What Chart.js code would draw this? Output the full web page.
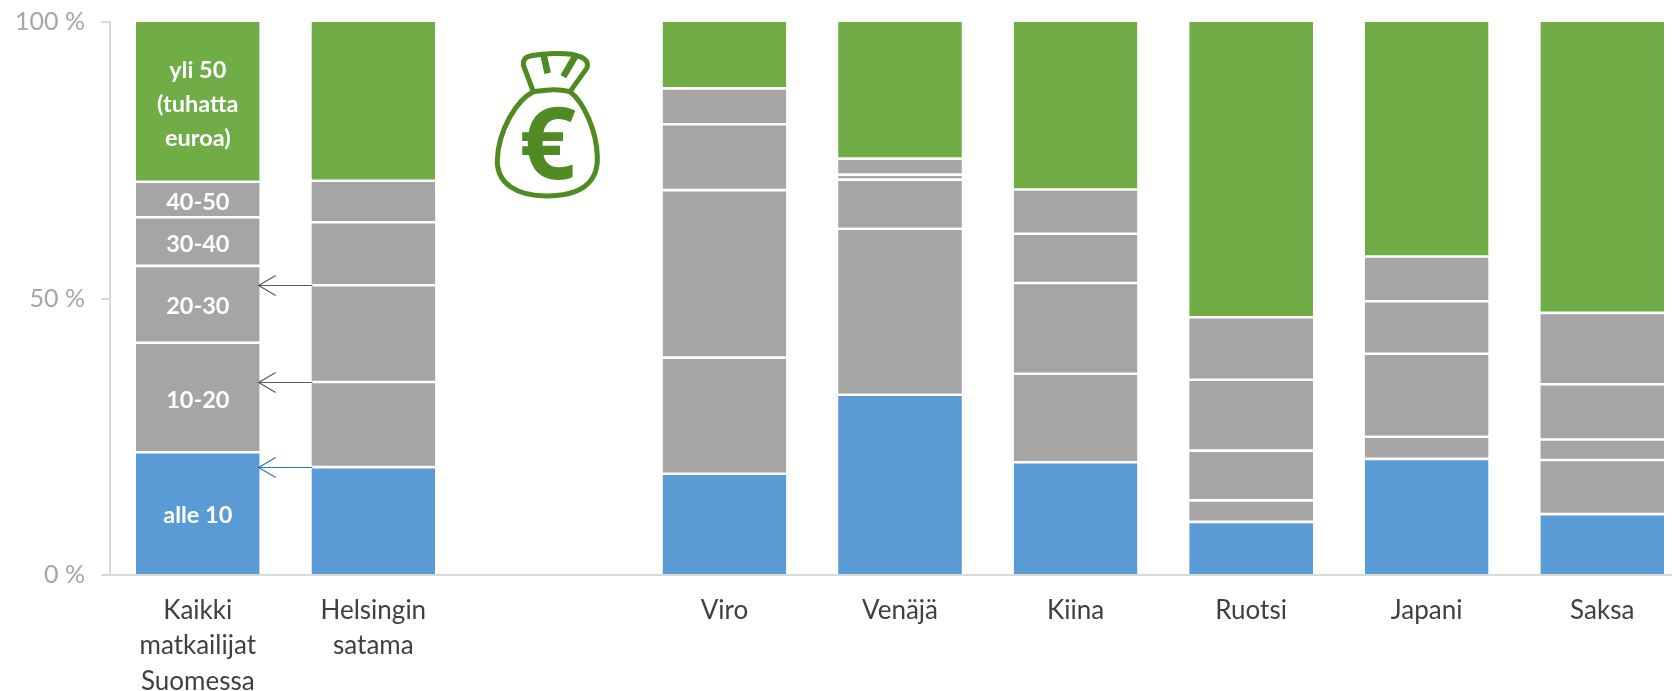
<!DOCTYPE html>
<html><head><meta charset="utf-8">
<style>html,body{margin:0;padding:0;background:#fff;overflow:hidden;width:1672px;height:691px}canvas{display:block}</style>
<script src="https://cdn.jsdelivr.net/npm/chart.js@4"></script>
</head><body><canvas id="c" width="1700" height="691"></canvas>
<script>
const categories=[['Kaikki','matkailijat','Suomessa'],['Helsingin','satama'],'','Viro','Venäjä','Kiina','Ruotsi','Japani','Saksa'];
const alle10=[22.2,19.5,null,18.3,32.6,20.4,9.6,21.0,11.0];
const s10_20=[19.8,15.4,null,21.0,30.0,16.0,3.9,4.0,9.8];
const s20_30=[13.9,17.5,null,30.3,8.9,16.4,9.0,15.0,3.7];
const s30_40=[8.8,11.4,null,11.9,0.9,8.9,12.8,9.5,10.0];
const s40_50=[6.4,7.5,null,6.5,2.9,8.0,11.3,8.1,12.9];
const yli50=[28.9,28.7,null,12.0,24.7,30.3,53.4,42.4,52.6];
const segmentLabels=[['alle 10'],['10-20'],['20-30'],['30-40'],['40-50'],['yli 50','(tuhatta','euroa)']];
const yTicks=[0,50,100];
const arrowLevels=[{upTo:1,color:'#2E75B6'},{upTo:2,color:'#595959'},{upTo:3,color:'#595959'}];
const BLUE='#5B9BD5',GREY='#A5A5A5',GREEN='#70AD47',FONT='Lato, Carlito, sans-serif';
const series=[alle10,s10_20,s20_30,s30_40,s40_50,yli50];
const colors=[BLUE,GREY,GREY,GREY,GREY,GREEN];

const overlay={id:'overlay',afterDatasetsDraw(ch){
  const c=ch.ctx,x=ch.scales.x,y=ch.scales.y;
  c.save();c.fillStyle='#fff';c.font='bold 23.5px '+FONT;c.textAlign='center';c.textBaseline='middle';
  series.forEach((s,i)=>{
    const el=ch.getDatasetMeta(i).data[0];
    const mid=(el.y+el.base)/2+(i===5?3:2.5),lines=segmentLabels[i],lh=34;
    lines.forEach((t,k)=>c.fillText(t,el.x,mid+(k-(lines.length-1)/2)*lh));
  });
  c.restore();
  const a=ch.getDatasetMeta(0).data[0],b=ch.getDatasetMeta(0).data[1];
  const tip=a.x+a.width/2-1,tail=b.x-b.width/2+1;
  arrowLevels.forEach(l=>{
    let sum=0;for(let i=0;i<l.upTo;i++)sum+=series[i][1];
    const py=Math.round(y.getPixelForValue(sum))+.5;
    c.save();c.strokeStyle=l.color;c.lineWidth=1.2;c.beginPath();
    c.moveTo(tail,py);c.lineTo(tip,py);
    c.moveTo(tip+17,py-10);c.lineTo(tip,py);c.lineTo(tip+17,py+10);c.stroke();c.restore();
  });
  c.save();c.translate(480,40);c.scale(1/3,1/3);
  c.strokeStyle='#4F8A23';c.lineWidth=15;c.lineJoin='round';c.lineCap='round';
  c.stroke(new Path2D('M160 155C110 180 55 270 52 360C50 430 110 468 200 468C300 468 355 430 352 350C350 270 310 185 270 155C230 145 200 150 160 155Z'));
  c.stroke(new Path2D('M160 155L130 75Q128 52 150 48C190 40 270 35 300 50Q330 62 320 85L270 155'));
  c.lineWidth=20;c.lineCap='butt';
  c.stroke(new Path2D('M190 42L203 100M288 45L250 110'));
  c.fillStyle='#4F8A23';c.font='bold 300px "Open Sans", sans-serif';c.textAlign='center';c.textBaseline='alphabetic';
  c.fillText('€',203,418);
  c.restore();
}};

new Chart(document.getElementById('c'),{
  type:'bar',
  data:{labels:categories,datasets:series.map((d,i)=>({
    label:segmentLabels[i].join(' '),data:d,backgroundColor:colors[i],borderColor:'#fff',
    borderWidth:{left:0,right:0,top:i===5?0:1.3,bottom:i===0?0:1.3},borderSkipped:false,
    categoryPercentage:1,barPercentage:0.705}))},
  options:{responsive:false,animation:false,
    layout:{padding:{left:0,right:10,top:22,bottom:0}},
    plugins:{legend:{display:false},tooltip:{enabled:false}},
    scales:{
      x:{stacked:true,offset:true,
        grid:{display:false,drawTicks:false},
        border:{color:'#D9D9D9',width:2},
        afterFit(s){s.height=116},
        ticks:{maxRotation:0,autoSkip:false,padding:18,color:'#404040',font:{family:FONT,size:26,lineHeight:1.36}}},
      y:{stacked:true,min:0,max:100,
        afterFit(s){s.width=110;s.paddingTop=0;s.paddingBottom=0},
        afterBuildTicks(s){s.ticks=yTicks.map(v=>({value:v}))},
        grid:{drawOnChartArea:false,color:'#D9D9D9',lineWidth:2,tickLength:9},
        border:{color:'#D9D9D9',width:2},
        ticks:{padding:16,color:'#A6A6A6',font:{family:FONT,size:25},callback:v=>v+' %'}}
    }},
  plugins:[overlay]
});
</script></body></html>
